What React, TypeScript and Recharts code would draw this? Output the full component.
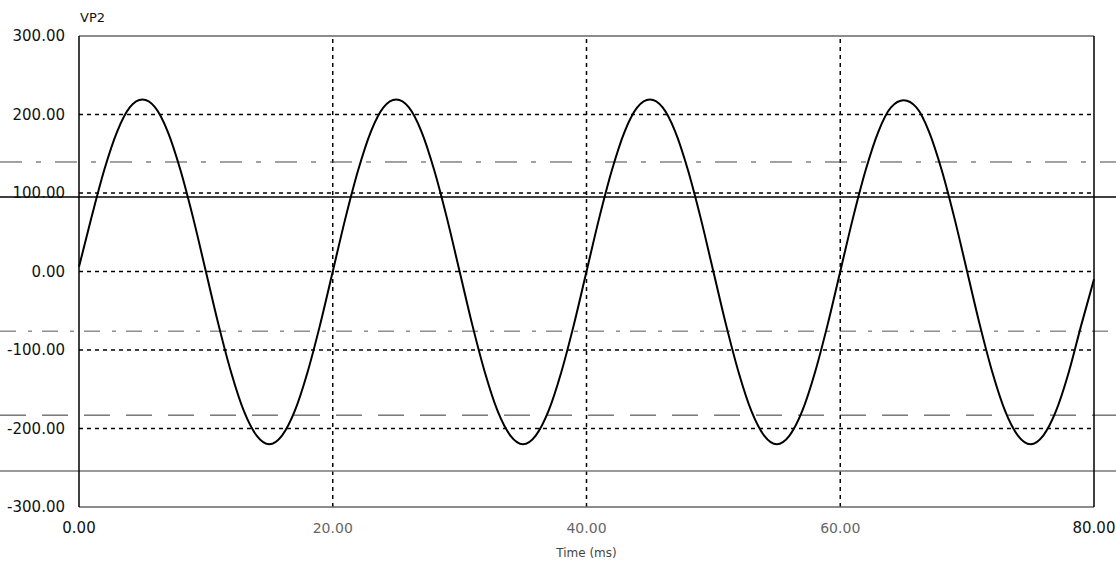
import React from 'react';
import { LineChart, Line, XAxis, YAxis, ReferenceLine } from 'recharts';

// VP2 voltage sampled every 1 ms
const timeMs = [
  0, 1, 2, 3, 4, 5, 6, 7, 8, 9, 10, 11, 12, 13, 14, 15, 16, 17, 18, 19,
  20, 21, 22, 23, 24, 25, 26, 27, 28, 29, 30, 31, 32, 33, 34, 35, 36, 37, 38, 39,
  40, 41, 42, 43, 44, 45, 46, 47, 48, 49, 50, 51, 52, 53, 54, 55, 56, 57, 58, 59,
  60, 61, 62, 63, 64, 65, 66, 67, 68, 69, 70, 71, 72, 73, 74, 75, 76, 77, 78, 79, 80,
];
const vp2 = [
  6, 70, 130, 178, 209, 219, 209, 178, 129, 68, 0, -68, -129, -178, -209, -220, -209, -178, -129, -68,
  0, 68, 129, 178, 209, 219, 209, 178, 129, 68, 0, -68, -129, -178, -209, -220, -209, -178, -129, -68,
  0, 68, 129, 178, 209, 219, 209, 178, 129, 68, 0, -68, -129, -178, -209, -220, -209, -178, -129, -68,
  0, 68, 129, 178, 209, 218, 209, 178, 129, 68, 0, -68, -129, -178, -209, -220, -209, -178, -129, -68, -10,
];

const xTicks = [0, 20, 40, 60, 80];
const yTicks = [-300, -200, -100, 0, 100, 200, 300];
const xGrid = [20, 40, 60];
const yGrid = [-200, -100, 0, 100, 200];

// stray traces running across the whole page
const wideLines = [
  { y: 95, stroke: '#000', width: 1.5, dash: undefined },
  { y: 139.5, stroke: '#444', width: 1, dash: '22 14 5 14' },
  { y: -76, stroke: '#555', width: 1, dash: '16 12 4 10' },
  { y: -183, stroke: '#333', width: 1, dash: '26 16' },
  { y: -254, stroke: '#777', width: 1.5, dash: undefined },
];

const data = timeMs.map((t, i) => ({ t, v: vp2[i] }));

const W = 1116;
const H = 561;
const FONT = '"DejaVu Sans", sans-serif';

const fmt = (n: number) => n.toFixed(2);

const YTick = (props: any) => (
  <text x={props.x} y={props.y} dy="0.36em" textAnchor="end" fontFamily={FONT} fontSize={15} fill="#111">
    {fmt(props.payload.value)}
  </text>
);

const XTick = (props: any) => {
  const v = props.payload.value;
  const edge = v === 0 || v === 80;
  return (
    <text
      x={props.x}
      y={props.y}
      dy={26}
      textAnchor="middle"
      fontFamily={FONT}
      fontSize={edge ? 15 : 14}
      fill={edge ? '#111' : '#666'}
    >
      {fmt(v)}
    </text>
  );
};

const wideShape = (cfg: { stroke: string; width: number; dash?: string }) => (p: any) => (
  <line
    x1={0}
    x2={W}
    y1={p.y1}
    y2={p.y1}
    stroke={cfg.stroke}
    strokeWidth={cfg.width}
    strokeDasharray={cfg.dash}
  />
);

export default function App() {
  return (
    <div style={{ position: 'absolute', left: 0, top: 0, width: W, height: H, background: '#fff' }}>
      <LineChart width={W} height={H} data={data} margin={{ top: 36, right: 22, bottom: 0, left: 0 }}>
        <XAxis
          dataKey="t"
          type="number"
          domain={[0, 80]}
          ticks={xTicks}
          axisLine={false}
          tickLine={false}
          tickSize={0}
          tickMargin={0}
          height={54}
          tick={<XTick />}
          label={{ value: 'Time (ms)', position: 'insideBottom', offset: 4, fontSize: 12, fill: '#444', fontFamily: FONT }}
        />
        <YAxis
          type="number"
          domain={[-300, 300]}
          ticks={yTicks}
          axisLine={false}
          tickLine={false}
          tickSize={0}
          tickMargin={14}
          width={79}
          tick={<YTick />}
          label={{ value: 'VP2', position: 'top', offset: 14, dx: 53, fontSize: 13, fill: '#111', fontFamily: FONT }}
        />

        {yGrid.map((y) => (
          <ReferenceLine key={'h' + y} y={y} stroke="#000" strokeWidth={1.5} strokeDasharray="4 4" />
        ))}
        {xGrid.map((x) => (
          <ReferenceLine key={'v' + x} x={x} stroke="#000" strokeWidth={1.5} strokeDasharray="4 4" />
        ))}

        {wideLines.map((l) => (
          <ReferenceLine key={'w' + l.y} y={l.y} shape={wideShape(l)} />
        ))}

        {/* plot frame */}
        <ReferenceLine y={300} stroke="#666" strokeWidth={1.5} />
        <ReferenceLine y={-300} stroke="#666" strokeWidth={1.5} />
        <ReferenceLine x={0} stroke="#000" strokeWidth={1.5} />
        <ReferenceLine x={80} stroke="#000" strokeWidth={1.5} />

        <Line
          dataKey="v"
          type="monotone"
          stroke="#000"
          strokeWidth={2}
          dot={false}
          isAnimationActive={false}
        />
      </LineChart>
    </div>
  );
}
